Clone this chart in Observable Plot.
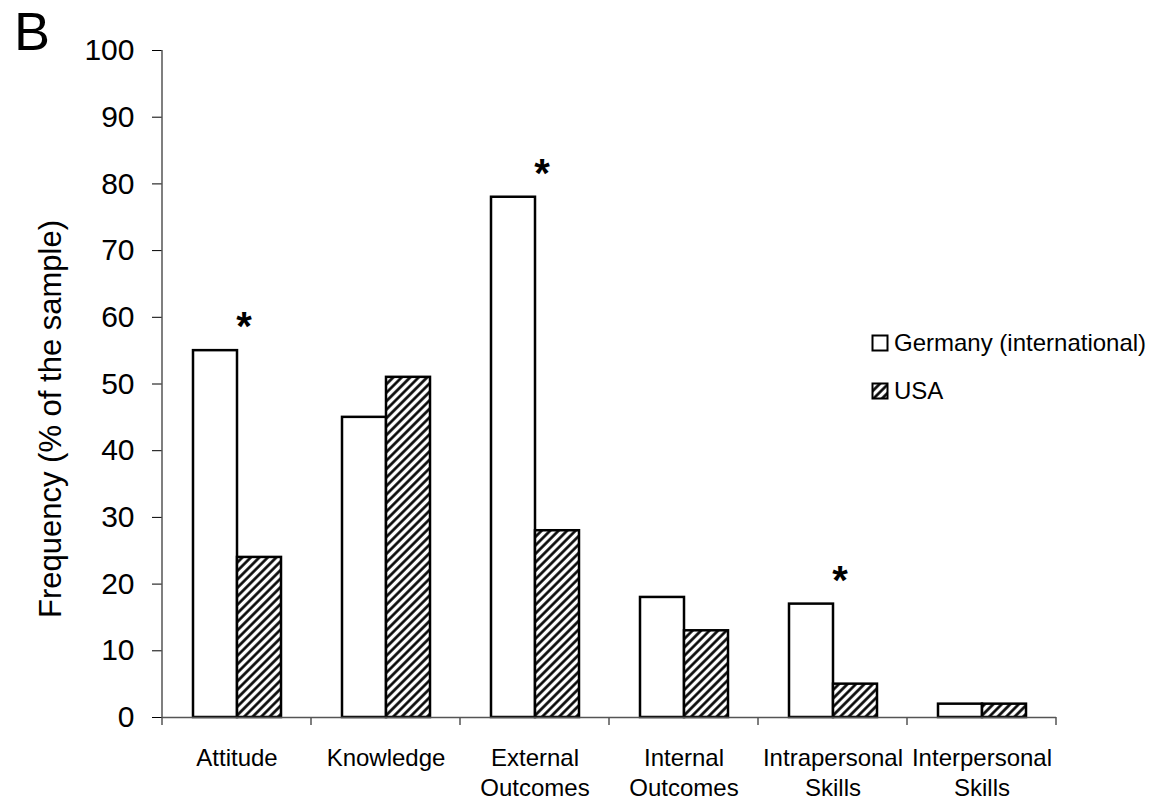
<!DOCTYPE html>
<html><head><meta charset="utf-8">
<script src="https://cdn.jsdelivr.net/npm/d3@7"></script>
<script src="https://cdn.jsdelivr.net/npm/@observablehq/plot@0.6"></script>
<style>
body{margin:0;background:#fff;font-family:"Liberation Sans",Arial,sans-serif;}
#wrap{position:relative;width:1163px;height:801px;overflow:hidden;}
#panel{position:absolute;left:14px;top:4px;font-size:54px;line-height:1;color:#000;}
#legend{position:absolute;left:871px;top:330px;font-size:24px;color:#000;}
#legend .row{display:flex;align-items:center;height:26px;}
#legend .row + .row{margin-top:22px;}
#legend svg{margin-right:5px;}
g[aria-label="y-axis tick"]{stroke:#555;}
</style></head><body>
<div id="wrap"><div id="chart"></div><div id="panel">B</div><div id="legend"></div></div>
<script>
const categories = ["Attitude", "Knowledge", "External\nOutcomes", "Internal\nOutcomes", "Intrapersonal\nSkills", "Interpersonal\nSkills"];
const series = ["Germany (international)", "USA"];
const germany = [55, 45, 78, 18, 17, 2];
const usa = [24, 51, 28, 13, 5, 2];
const significant = [true, false, true, false, true, false];
const yTicks = [0, 10, 20, 30, 40, 50, 60, 70, 80, 90, 100];
const yLabel = "Frequency (% of the sample)";

const rows = [];
categories.forEach((c, i) => {
  rows.push({category: c, series: series[0], value: germany[i]});
  rows.push({category: c, series: series[1], value: usa[i]});
});
const stars = categories.map((c, i) => ({category: c, value: germany[i], sig: significant[i]})).filter(d => d.sig);

const plot = Plot.plot({
  width: 1163,
  height: 801,
  marginLeft: 162,
  marginRight: 107,
  marginTop: 50,
  marginBottom: 84,
  style: {fontFamily: '"Liberation Sans", Arial, sans-serif', fontSize: "30px", color: "#000", background: "transparent", overflow: "visible"},
  fx: {domain: categories, padding: 0, axis: null},
  x: {domain: series, paddingInner: 0, paddingOuter: 0.69, axis: null},
  y: {domain: [0, 100], ticks: yTicks, tickSize: 10, tickPadding: 18, label: yLabel, labelAnchor: "center", labelOffset: 124, labelArrow: "none"},
  marks: [
    Plot.barY(rows, {
      fx: "category", x: "series", y: "value",
      fill: d => d.series === series[1] ? "url(#hatch)" : "white",
      stroke: "black", strokeWidth: 2.5
    }),
    Plot.ruleY([0], {stroke: "#555", strokeWidth: 1.5}),
    Plot.text(stars, {fx: "category", y: "value", text: () => "*", dx: 7, dy: -23, fontSize: 40, fontWeight: "bold", lineAnchor: "middle"}),
    Plot.text(categories, {fx: d => d, text: d => d, frameAnchor: "bottom", lineAnchor: "top", dy: 28, fontSize: 24, lineHeight: 1.23})
  ]
});

document.getElementById("chart").appendChild(plot);

const svg = d3.select(plot);
const labelG = svg.select('g[aria-label="y-axis label"]');
if (!labelG.empty()) {
  labelG.selectAll("text").style("font-size", "31px");
  const wrapper = svg.append("g").attr("transform", "translate(0,35)");
  wrapper.node().appendChild(labelG.node());
}

const defs = svg.insert("defs", ":first-child");
function addHatch(defsSel, id) {
  const p = defsSel.append("pattern").attr("id", id).attr("patternUnits", "userSpaceOnUse")
    .attr("width", 6).attr("height", 6).attr("patternTransform", "rotate(45)");
  p.append("rect").attr("width", 6).attr("height", 6).attr("fill", "white");
  p.append("line").attr("x1", 1.5).attr("y1", 0).attr("x2", 1.5).attr("y2", 6).attr("stroke", "black").attr("stroke-width", 2.6);
}
addHatch(defs, "hatch");

const fx = plot.scale("fx");
const y = plot.scale("y");
const x0 = fx.apply(categories[0]);
const g = svg.append("g").attr("stroke", "#555").attr("stroke-width", 1.5);
g.append("line").attr("x1", x0).attr("x2", x0).attr("y1", y.apply(0)).attr("y2", y.apply(100));
const edges = categories.map(c => fx.apply(c)).concat([fx.apply(categories[categories.length - 1]) + fx.bandwidth]);
edges.forEach(e => g.append("line").attr("x1", e).attr("x2", e).attr("y1", y.apply(0)).attr("y2", y.apply(0) + 8));

// legend
const legend = d3.select("#legend");
series.forEach((s, i) => {
  const row = legend.append("div").attr("class", "row");
  const sw = row.append("svg").attr("width", 18).attr("height", 18);
  if (i === 1) addHatch(sw.append("defs"), "hatchLegend");
  sw.append("rect").attr("x", 1.5).attr("y", 1.5).attr("width", 15).attr("height", 15)
    .attr("fill", i === 1 ? "url(#hatchLegend)" : "white").attr("stroke", "black").attr("stroke-width", 2);
  row.append("span").text(s);
});
</script>
</body></html>
